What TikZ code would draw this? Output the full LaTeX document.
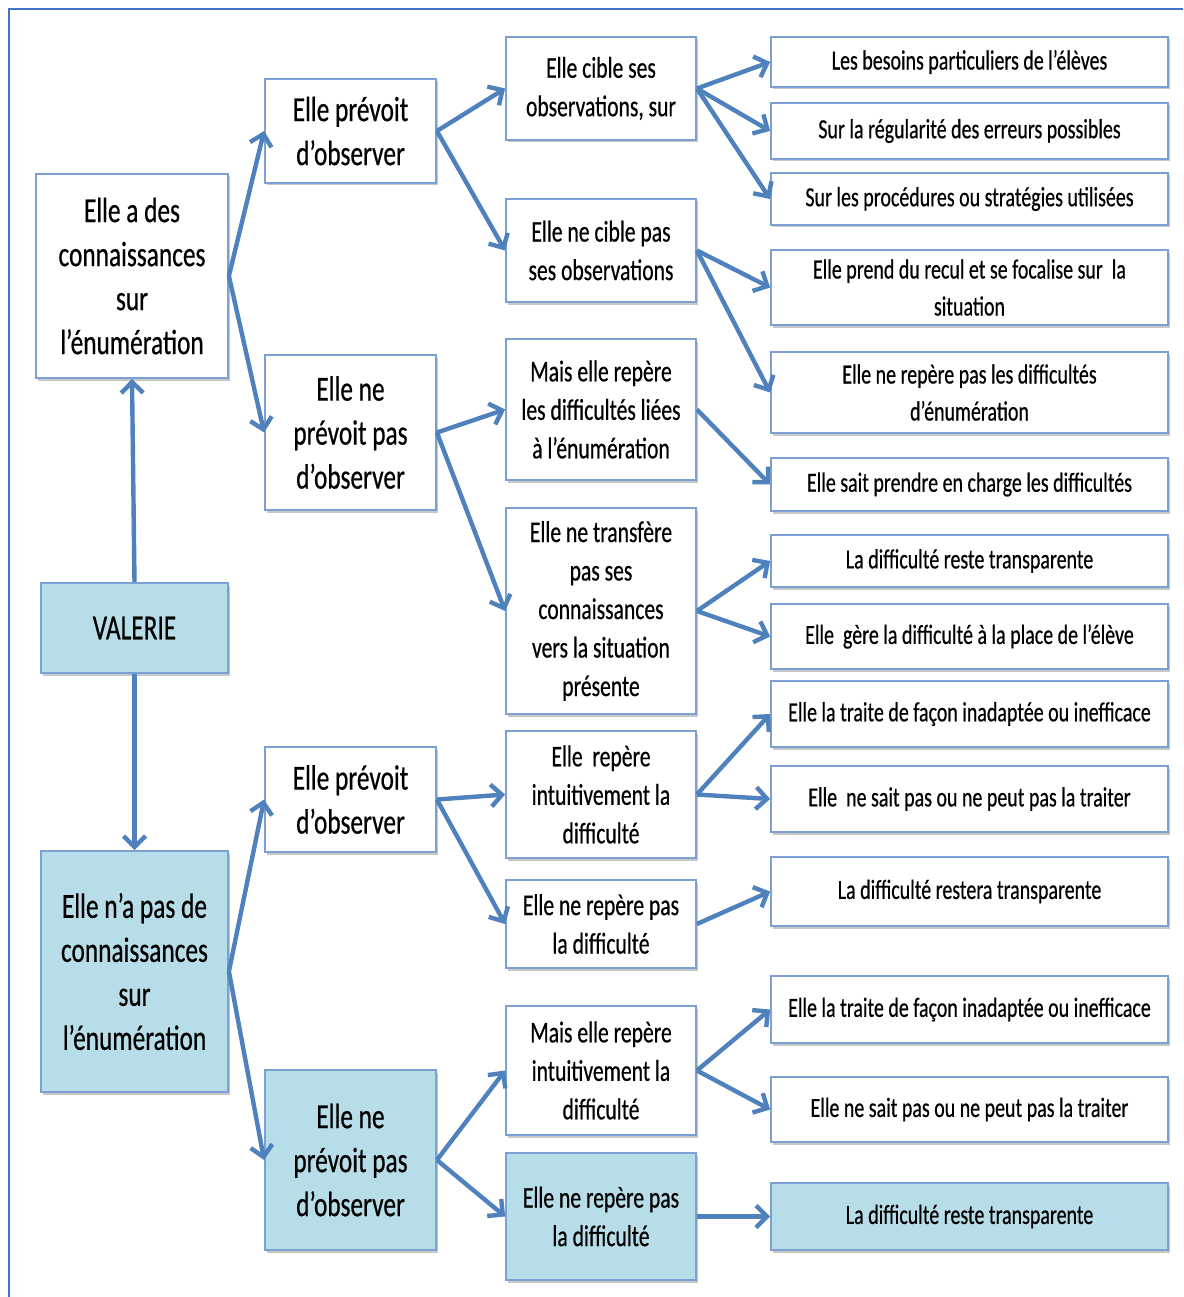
\documentclass[tikz,border=0pt]{standalone}
\usepackage{fontspec}
\setmainfont[FakeStretch=0.72,FakeBold=0.5]{Carlito}
\usetikzlibrary{arrows.meta,shadows}
\definecolor{boxblue}{RGB}{125,160,212}
\definecolor{arrowblue}{RGB}{79,129,189}
\definecolor{fillblue}{RGB}{183,221,232}
\definecolor{frameblue}{RGB}{68,114,196}
\tikzset{
  box/.style={draw=boxblue, line width=1.8pt, fill=white, align=center, inner sep=0pt,
    drop shadow={shadow xshift=1.5pt, shadow yshift=-2.5pt, fill=black, opacity=0.22}},
  bluebox/.style={box, fill=fillblue},
  fA/.style={font=\fontsize{35.2}{44}\selectfont},
  fB/.style={font=\fontsize{30}{38.5}\selectfont},
  fC/.style={font=\fontsize{27.7}{37}\selectfont},
  c1/.style={minimum width=187pt},
  c2/.style={minimum width=171pt, fA},
  c3/.style={minimum width=190pt, fB},
  c4/.style={minimum width=397pt, fC},
  arr/.style={draw=arrowblue, line width=4.4pt,
    -{Straight Barb[length=11pt,width=22pt,line width=4.4pt]}},
}
\begin{document}
\begin{tikzpicture}[x=1pt,y=-1pt]
\useasboundingbox (0,0) rectangle (1183,1297);
\fill[white] (0,0) rectangle (1183,1297);
\draw[frameblue, line width=1.5pt] (9,1297) -- (9,9) -- (1183,9);

% column 1
\node[box, fA, minimum width=192pt, minimum height=204pt] (a1) at (132,276)
  {Elle a des\\connaissances\\sur\\l’énumération};
\node[bluebox, fA, c1, minimum height=90pt] (val) at (134.5,628) {VALERIE};
\node[bluebox, fA, c1, minimum height=241pt] (a2) at (134.5,971.5)
  {Elle n’a pas de\\connaissances\\sur\\l’énumération};

% column 2
\node[box, c2, minimum height=104pt] (b1) at (350.5,131) {Elle prévoit\\d’observer};
\node[box, c2, minimum height=155pt] (b2) at (350.5,432.5) {Elle ne\\prévoit pas\\d’observer};
\node[box, c2, minimum height=105pt] (b3) at (350.5,799.5) {Elle prévoit\\d’observer};
\node[bluebox, c2, minimum height=180pt] (b4) at (350.5,1160) {Elle ne\\prévoit pas\\d’observer};

% column 3
\node[box, c3, minimum height=103pt] (c1n) at (601,88.5) {Elle cible ses\\observations, sur};
\node[box, c3, minimum height=103pt] (c2n) at (601,250.5) {Elle ne cible pas\\ses observations};
\node[box, c3, minimum height=141pt] (c3n) at (601,409.5) {Mais elle repère\\les difficultés liées\\à l’énumération};
\node[box, c3, minimum height=206pt] (c4n) at (601,611) {Elle ne transfère\\pas ses\\connaissances\\vers la situation\\présente};
\node[box, c3, minimum height=127pt] (c5n) at (601,794.5) {Elle\ \ repère\\intuitivement la\\difficulté};
\node[box, c3, minimum height=88pt] (c6n) at (601,924) {Elle ne repère pas\\la difficulté};
\node[box, c3, minimum height=129pt] (c7n) at (601,1070.5) {Mais elle repère\\intuitivement la\\difficulté};
\node[bluebox, c3, minimum height=127pt] (c8n) at (601,1216.5) {Elle ne repère pas\\la difficulté};

% column 4
\node[box, c4, minimum height=50pt] (d1) at (969.5,62) {Les besoins particuliers de l’élèves};
\node[box, c4, minimum height=56pt] (d2) at (969.5,131) {Sur la régularité des erreurs possibles};
\node[box, c4, minimum height=52pt] (d3) at (969.5,199) {Sur les procédures ou stratégies utilisées};
\node[box, c4, minimum height=75pt] (d4) at (969.5,287.5) {Elle prend du recul et se focalise sur\ \ la\\situation};
\node[box, c4, minimum height=81pt] (d5) at (969.5,392.5) {Elle ne repère pas les difficultés\\d’énumération};
\node[box, c4, minimum height=53pt] (d6) at (969.5,484.5) {Elle sait prendre en charge les difficultés};
\node[box, c4, minimum height=52pt] (d7) at (969.5,561) {La difficulté reste transparente};
\node[box, c4, minimum height=65pt] (d8) at (969.5,636.5) {Elle\ \ gère la difficulté à la place de l’élève};
\node[box, c4, minimum height=66pt] (d9) at (969.5,714) {Elle la traite de façon inadaptée ou inefficace};
\node[box, c4, minimum height=66pt] (d10) at (969.5,799) {Elle\ \ ne sait pas ou ne peut pas la traiter};
\node[box, c4, minimum height=69pt] (d11) at (969.5,891.5) {La difficulté restera transparente};
\node[box, c4, minimum height=67pt] (d12) at (969.5,1009.5) {Elle la traite de façon inadaptée ou inefficace};
\node[box, c4, minimum height=65pt] (d13) at (969.5,1109.5) {Elle ne sait pas ou ne peut pas la traiter};
\node[bluebox, c4, minimum height=67pt] (d14) at (969.5,1216.5) {La difficulté reste transparente};

% connectors
\draw[arr] (val.north) -- (a1.south);
\draw[arr] (val.south) -- (a2.north);
\draw[arr] (a1.east) -- (b1.west);
\draw[arr] (a1.east) -- (b2.west);
\draw[arr] (a2.east) -- (b3.west);
\draw[arr] (a2.east) -- (b4.west);

\draw[arr] (b1.east) -- (c1n.west);
\draw[arr] (b1.east) -- (c2n.west);
\draw[arr] (b2.east) -- (c3n.west);
\draw[arr] (b2.east) -- (c4n.west);
\draw[arr] (b3.east) -- (c5n.west);
\draw[arr] (b3.east) -- (c6n.west);
\draw[arr] (b4.east) -- (c7n.west);
\draw[arr] (b4.east) -- (c8n.west);

\draw[arr] (c1n.east) -- (d1.west);
\draw[arr] (c1n.east) -- (d2.west);
\draw[arr] (c1n.east) -- (d3.west);
\draw[arr] (c2n.east) -- (d4.west);
\draw[arr] (c2n.east) -- (d5.west);
\draw[arr] (c3n.east) -- (d6.west);
\draw[arr] (c4n.east) -- (d7.west);
\draw[arr] (c4n.east) -- (d8.west);
\draw[arr] (c5n.east) -- (d9.west);
\draw[arr] (c5n.east) -- (d10.west);
\draw[arr] (c6n.east) -- (d11.west);
\draw[arr] (c7n.east) -- (d12.west);
\draw[arr] (c7n.east) -- (d13.west);
\draw[arr] (c8n.east) -- (d14.west);
\end{tikzpicture}
\end{document}
